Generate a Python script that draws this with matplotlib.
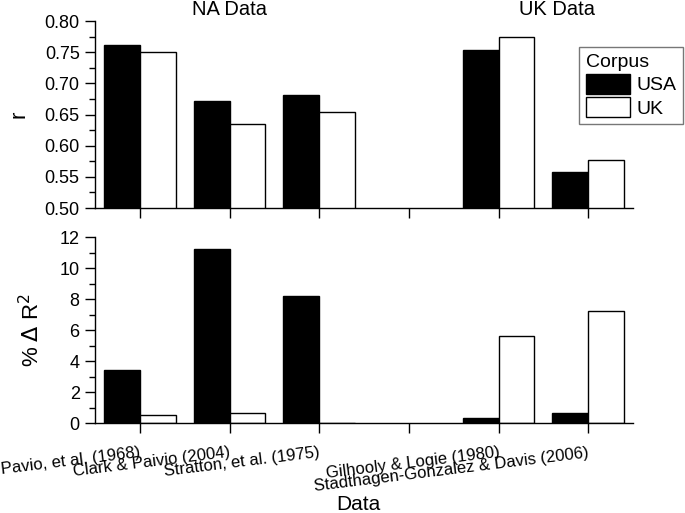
import numpy as np
import matplotlib.pyplot as plt
from matplotlib.ticker import MultipleLocator

plt.rcParams['font.family'] = ['Liberation Sans', 'DejaVu Sans']

# dados
estudos = ["Pavio, et al. (1968)", "Clark & Paivio (2004)", "Stratton, et al. (1975)",
           "", "Gilhooly & Logie (1980)", "Stadthagen-Gonzalez & Davis (2006)"]
r_usa = [0.762, 0.671, 0.682, np.nan, 0.754, 0.557]
r_uk = [0.751, 0.635, 0.654, np.nan, 0.775, 0.577]
dr2_usa = [3.42, 11.25, 8.2, np.nan, 0.3, 0.62]
dr2_uk = [0.52, 0.65, 0.0, np.nan, 5.63, 7.22]

x = np.arange(len(estudos))
w = 0.4

fig = plt.figure(figsize=(6.85, 5.13), dpi=100)
ax1 = fig.add_axes([0.1387, 0.5945, 0.7854, 0.3645])
ax2 = fig.add_axes([0.1387, 0.1754, 0.7854, 0.3626])

def estilo(ax):
    for s in ["top", "right"]:
        ax.spines[s].set_visible(False)
    ax.spines["left"].set_linewidth(1.0)
    ax.spines["bottom"].set_linewidth(1.0)
    ax.set_xlim(-0.5, 5.5)
    ax.set_xticks(x)
    ax.tick_params(axis="both", which="major", direction="out", length=7, width=1, labelsize=13)
    ax.tick_params(axis="y", which="major", pad=4)
    ax.tick_params(axis="y", which="minor", direction="out", length=4, width=1)

# painel de cima: r
ax1.bar(x - w/2, r_usa, w, color="black", edgecolor="black", linewidth=1, label="USA")
ax1.bar(x + w/2, r_uk, w, color="white", edgecolor="black", linewidth=1, label="UK")
estilo(ax1)
ax1.set_ylim(0.5, 0.8)
ax1.set_yticks(np.arange(0.50, 0.801, 0.05))
ax1.yaxis.set_minor_locator(MultipleLocator(0.025))
ax1.set_yticklabels([f"{v:.2f}" for v in np.arange(0.50, 0.801, 0.05)])
ax1.set_xticklabels([])
ax1.set_ylabel("r", fontsize=16)
ax1.yaxis.set_label_coords(-0.121, 0.5)
ax1.text(1, 0.818, "NA Data", ha="center", va="center", fontsize=14.5)
ax1.text(4.65, 0.818, "UK Data", ha="center", va="center", fontsize=14.5)

leg = ax1.legend(title="Corpus", loc="upper right", bbox_to_anchor=(683/685, 1 - 47/513),
                 bbox_transform=fig.transFigure, fancybox=False, fontsize=14,
                 title_fontsize=14, handlelength=2.3, handleheight=1.2,
                 handletextpad=0.3, borderpad=0.35, labelspacing=0.15,
                 borderaxespad=0, alignment="left")
leg.get_frame().set_edgecolor("#555555")
leg.get_frame().set_linewidth(1)

# painel de baixo: % delta R^2
ax2.bar(x - w/2, dr2_usa, w, color="black", edgecolor="black", linewidth=1)
ax2.bar(x + w/2, dr2_uk, w, color="white", edgecolor="black", linewidth=1)
estilo(ax2)
ax2.set_ylim(0, 12)
ax2.set_yticks(np.arange(0, 13, 2))
ax2.yaxis.set_minor_locator(MultipleLocator(1))
ax2.set_xticklabels(estudos, rotation=7, ha="right", va="top",
                    rotation_mode="anchor", fontsize=12)
ax2.tick_params(axis="x", which="major", pad=9)
ax2.set_ylabel("% $\\Delta$ R$^2$", fontsize=16)
ax2.yaxis.set_label_coords(-0.095, 0.5)
ax2.set_xlabel("Data", fontsize=15)
ax2.xaxis.set_label_coords(0.489, -0.44)
ax2.xaxis.label.set_va("center")

fig.savefig("out.png", dpi=100)
